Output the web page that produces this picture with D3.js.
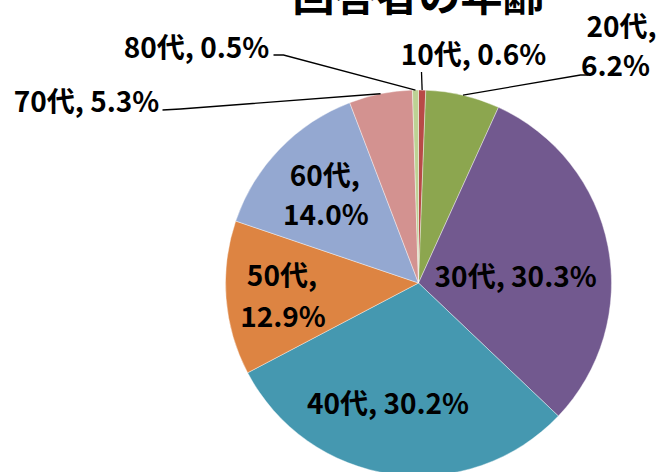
<!DOCTYPE html>
<html>
<head>
<meta charset="utf-8">
<script src="https://cdn.jsdelivr.net/npm/d3@7"></script>
<style>
  body { margin: 0; background: #fff; }
  svg text { font-family: "Noto Sans CJK JP", "Noto Sans", sans-serif; font-weight: bold; fill: #000; }
</style>
</head>
<body>
<svg id="chart" width="659" height="472"></svg>
<script>
// data
var titleText = '回答者の年齢';
var ageGroups = ['10代', '20代', '30代', '40代', '50代', '60代', '70代', '80代'];
var shares = [0.6, 6.2, 30.3, 30.2, 12.9, 14.0, 5.3, 0.5];
var sliceColors = ['#b84a47', '#8ca64f', '#72598f', '#4598b0', '#dd8442', '#94a8d1', '#d39290', '#bdd294'];

var width = 659, height = 472;
var cx = 418.5, cy = 283, radius = 193;

var svg = d3.select('#chart');

var pie = d3.pie().sort(null).value(function (d) { return d.value; });
var arc = d3.arc().innerRadius(0).outerRadius(radius);

var rows = ageGroups.map(function (g, i) {
  return { key: g, value: shares[i], color: sliceColors[i] };
});
var arcs = pie(rows);

var g = svg.append('g').attr('transform', 'translate(' + cx + ',' + cy + ')');

// slices
g.selectAll('path.slice')
  .data(arcs)
  .enter()
  .append('path')
  .attr('class', 'slice')
  .attr('d', arc)
  .attr('fill', function (d) { return d.data.color; })
  .attr('stroke', '#fff')
  .attr('stroke-width', 0.4);

// label layout (Excel "best fit" style placement)
// inside: radius along slice midline + lines
// outside: leader elbow + text position, relative to the centre
var labelLayout = {
  '10代': { out: true, elbow: [3, -211], end: [3, -211], lines: [[55, -230]] },
  '20代': { out: true, elbow: [162, -208], end: [170, -208], lines: [[203, -258], [197, -219]] },
  '30代': { r: 100, dx: -1, dy: 11, lines: [[0, 0]] },
  '40代': { r: 120, dx: -14, dy: 0, lines: [[0, 0]] },
  '50代': { r: 137, dx: 0, dy: 0, lines: [[0, -20], [1, 21]] },
  '60代': { r: 130, dx: 0, dy: 0, lines: [[0, -19], [1, 20]] },
  '70代': { out: true, elbow: [-238, -174], end: [-256, -173], lines: [[-332, -183]] },
  '80代': { out: true, elbow: [-135, -228], end: [-145, -228], lines: [[-222, -237]] }
};

var fontSize = 28;

function labelText(d) {
  return d.data.key + ', ' + d.data.value.toFixed(1) + '%';
}

arcs.forEach(function (d) {
  var lay = labelLayout[d.data.key];
  var mid = (d.startAngle + d.endAngle) / 2;
  var txt = labelText(d);
  var parts = lay.lines.length > 1 ? [d.data.key + ',', d.data.value.toFixed(1) + '%'] : [txt];

  if (lay.out) {
    var edge = [radius * Math.sin(mid), -radius * Math.cos(mid)];
    g.append('polyline')
      .attr('points', [edge, lay.elbow, lay.end].map(function (p) { return p.join(','); }).join(' '))
      .attr('fill', 'none')
      .attr('stroke', '#000')
      .attr('stroke-width', 1.3);
    parts.forEach(function (t, i) {
      g.append('text')
        .attr('x', lay.lines[i][0])
        .attr('y', lay.lines[i][1])
        .attr('text-anchor', 'middle')
        .attr('dominant-baseline', 'central')
        .style('font-size', fontSize + 'px')
        .text(t);
    });
  } else {
    var c = d3.arc().innerRadius(lay.r).outerRadius(lay.r).centroid(d);
    parts.forEach(function (t, i) {
      g.append('text')
        .attr('x', c[0] + lay.dx + lay.lines[i][0])
        .attr('y', c[1] + lay.dy + lay.lines[i][1])
        .attr('text-anchor', 'middle')
        .attr('dominant-baseline', 'central')
        .style('font-size', fontSize + 'px')
        .text(t);
    });
  }
});

// title (clipped at the top like the original)
svg.append('text')
  .attr('x', cx)
  .attr('y', 11)
  .attr('text-anchor', 'middle')
  .style('font-size', '42px')
  .text(titleText);
</script>
</body>
</html>
